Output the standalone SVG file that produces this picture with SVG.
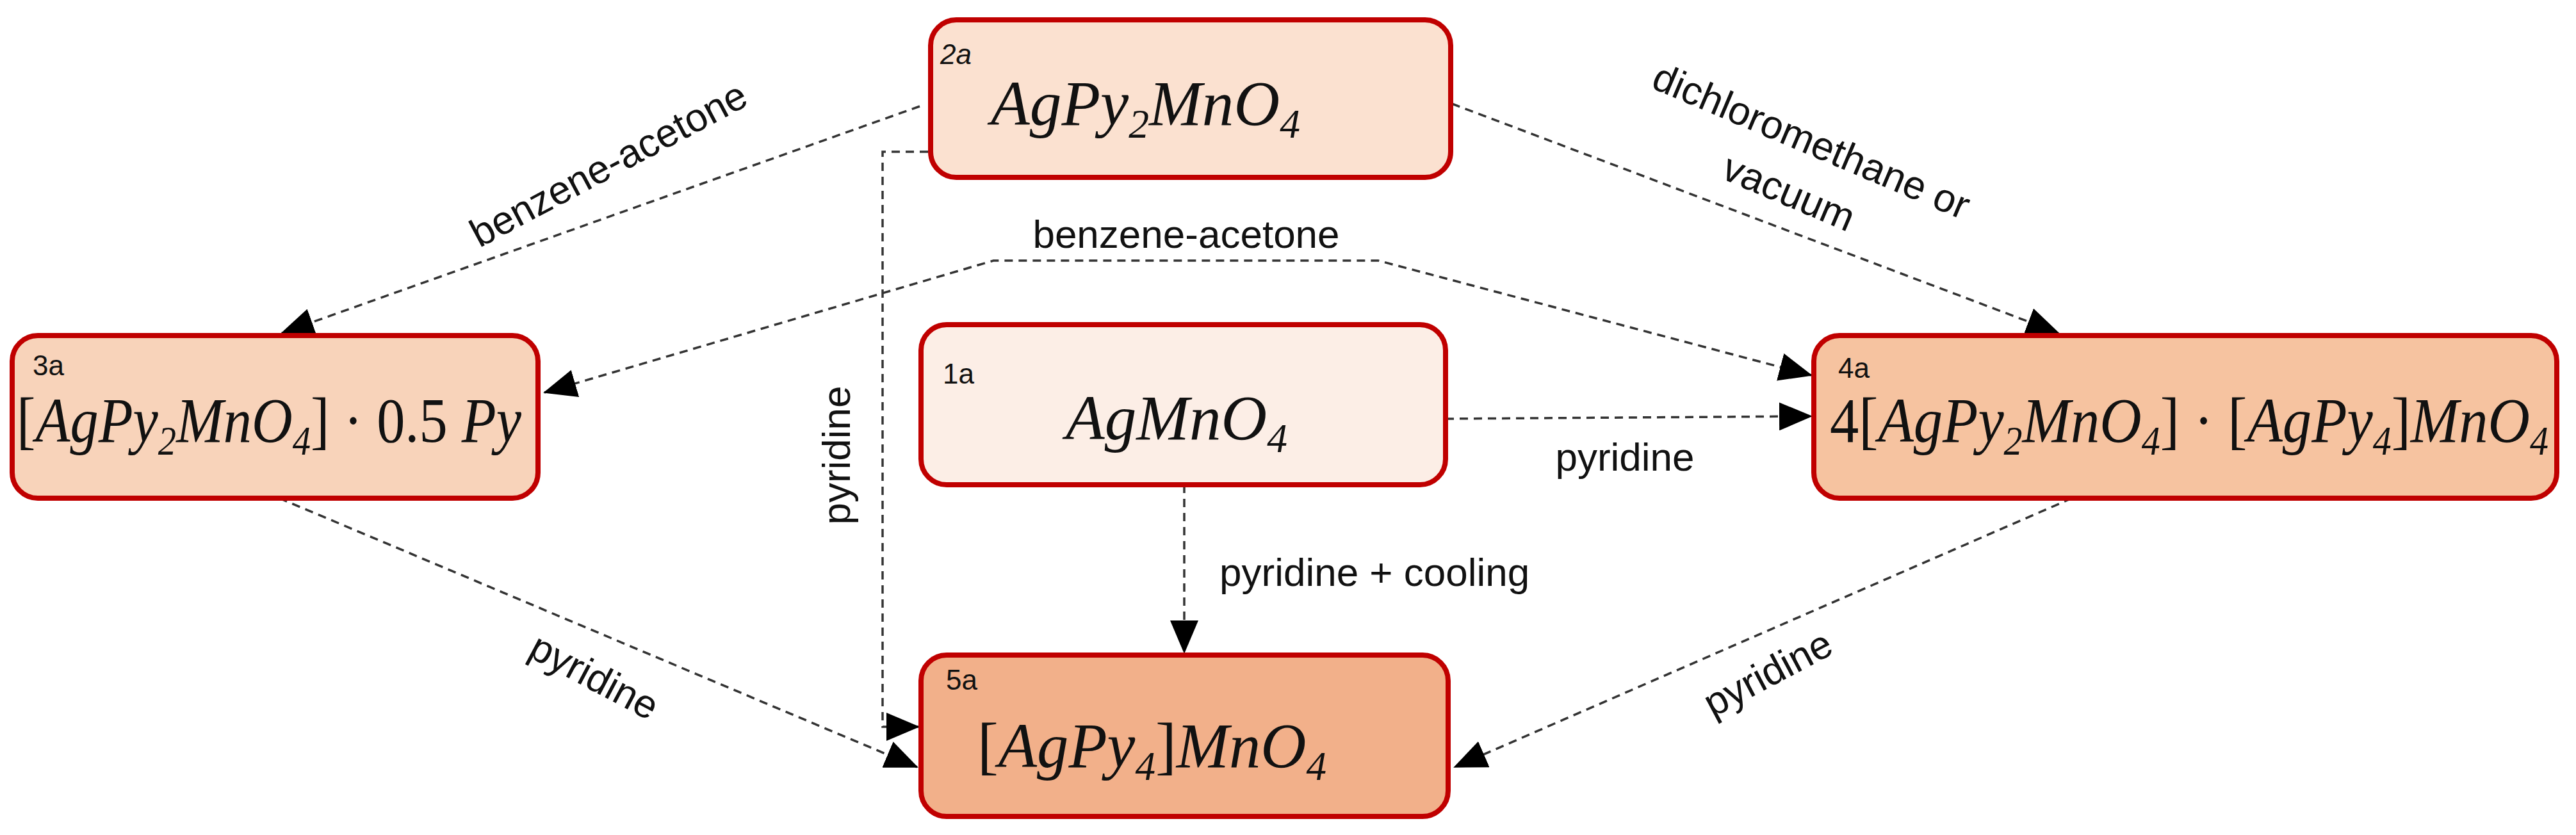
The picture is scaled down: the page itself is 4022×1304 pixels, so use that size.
<svg xmlns="http://www.w3.org/2000/svg" width="4022" height="1304" viewBox="0 0 4022 1304">
<style>
.box{stroke:#C00000;stroke-width:8}
.f{font-family:"Liberation Serif",serif;font-style:italic;font-size:100px;fill:#111}
.fu{font-style:normal}
.s{font-size:64px}
.id{font-family:"Liberation Sans",sans-serif;font-size:44px;fill:#111}
.lb{font-family:"Liberation Sans",sans-serif;font-size:62px;fill:#111}
.c{fill:none;stroke:#333;stroke-width:3.5;stroke-dasharray:13 9}
</style>
<defs>
<marker id="ah" markerUnits="userSpaceOnUse" markerWidth="54" markerHeight="44" refX="50" refY="22" orient="auto-start-reverse" viewBox="0 0 54 44"><path d="M0,0 L52,22 L0,44 Z" fill="#000"/></marker>
</defs>
<g id="connectors">
<path class="c" d="M1436,166 L440,520" marker-end="url(#ah)"/>
<path class="c" d="M1449,237 L1378,237 L1378,1135 L1434,1135" marker-end="url(#ah)"/>
<path class="c" d="M850,613 L1551,407 L2152,407 L2828,586" marker-start="url(#ah)" marker-end="url(#ah)"/>
<path class="c" d="M2257,654 L2828,650" marker-end="url(#ah)"/>
<path class="c" d="M1849,757 L1849,1019" marker-end="url(#ah)"/>
<path class="c" d="M436,778 L1432,1198" marker-end="url(#ah)"/>
<path class="c" d="M3235,778 L2271,1198" marker-end="url(#ah)"/>
<path class="c" d="M2267,162 L3214,520" marker-end="url(#ah)"/>
<text class="lb" transform="translate(960,275) rotate(-28)" text-anchor="middle">benzene-acetone</text>
<text class="lb" transform="translate(1327,711) rotate(-90)" text-anchor="middle">pyridine</text>
<text class="lb" x="1852" y="387" text-anchor="middle">benzene-acetone</text>
<text class="lb" x="2537" y="735" text-anchor="middle">pyridine</text>
<text class="lb" x="1904" y="915">pyridine + cooling</text>
<text class="lb" transform="translate(918,1075) rotate(28)" text-anchor="middle">pyridine</text>
<text class="lb" transform="translate(2770,1070) rotate(-28)" text-anchor="middle">pyridine</text>
<text class="lb" transform="translate(2820,240) rotate(23)" text-anchor="middle">dichloromethane or</text>
<text class="lb" transform="translate(2785,320) rotate(23)" text-anchor="middle">vacuum</text>
</g>
<g id="n2a">
<rect class="box" x="1453" y="31" width="812" height="246" rx="40" fill="#FBE1D0"/>
<text class="id" x="1468" y="100" font-style="italic">2a</text>
<text class="f" x="1547" y="195" textLength="483" lengthAdjust="spacingAndGlyphs">AgPy<tspan class="s" dy="20">2</tspan><tspan dy="-20">MnO</tspan><tspan class="s" dy="20">4</tspan></text>
</g>
<g id="n3a">
<rect class="box" x="19" y="524" width="821" height="254" rx="40" fill="#F8D3BA"/>
<text class="id" x="51" y="586">3a</text>
<text class="f" x="26" y="690" textLength="788" lengthAdjust="spacingAndGlyphs"><tspan class="fu">[</tspan>AgPy<tspan class="s" dy="20">2</tspan><tspan dy="-20">MnO</tspan><tspan class="s" dy="20">4</tspan><tspan class="fu" dy="-20">] · 0.5 </tspan>Py</text>
</g>
<g id="n1a">
<rect class="box" x="1438" y="507" width="819" height="250" rx="40" fill="#FCEEE6"/>
<text class="id" x="1472" y="599">1a</text>
<text class="f" x="1664" y="686" textLength="346" lengthAdjust="spacingAndGlyphs">AgMnO<tspan class="s" dy="20">4</tspan></text>
</g>
<g id="n4a">
<rect class="box" x="2832" y="524" width="1160" height="254" rx="40" fill="#F6C3A0"/>
<text class="id" x="2870" y="590">4a</text>
<text class="f" x="2857" y="690" textLength="1122" lengthAdjust="spacingAndGlyphs"><tspan class="fu">4[</tspan>AgPy<tspan class="s" dy="20">2</tspan><tspan dy="-20">MnO</tspan><tspan class="s" dy="20">4</tspan><tspan class="fu" dy="-20">] · [</tspan>AgPy<tspan class="s" dy="20">4</tspan><tspan class="fu" dy="-20">]</tspan>MnO<tspan class="s" dy="20">4</tspan></text>
</g>
<g id="n5a">
<rect class="box" x="1438" y="1023" width="823" height="252" rx="40" fill="#F2B08A"/>
<text class="id" x="1477" y="1077">5a</text>
<text class="f" x="1526" y="1198" textLength="545" lengthAdjust="spacingAndGlyphs"><tspan class="fu">[</tspan>AgPy<tspan class="s" dy="20">4</tspan><tspan class="fu" dy="-20">]</tspan>MnO<tspan class="s" dy="20">4</tspan></text>
</g>
</svg>
